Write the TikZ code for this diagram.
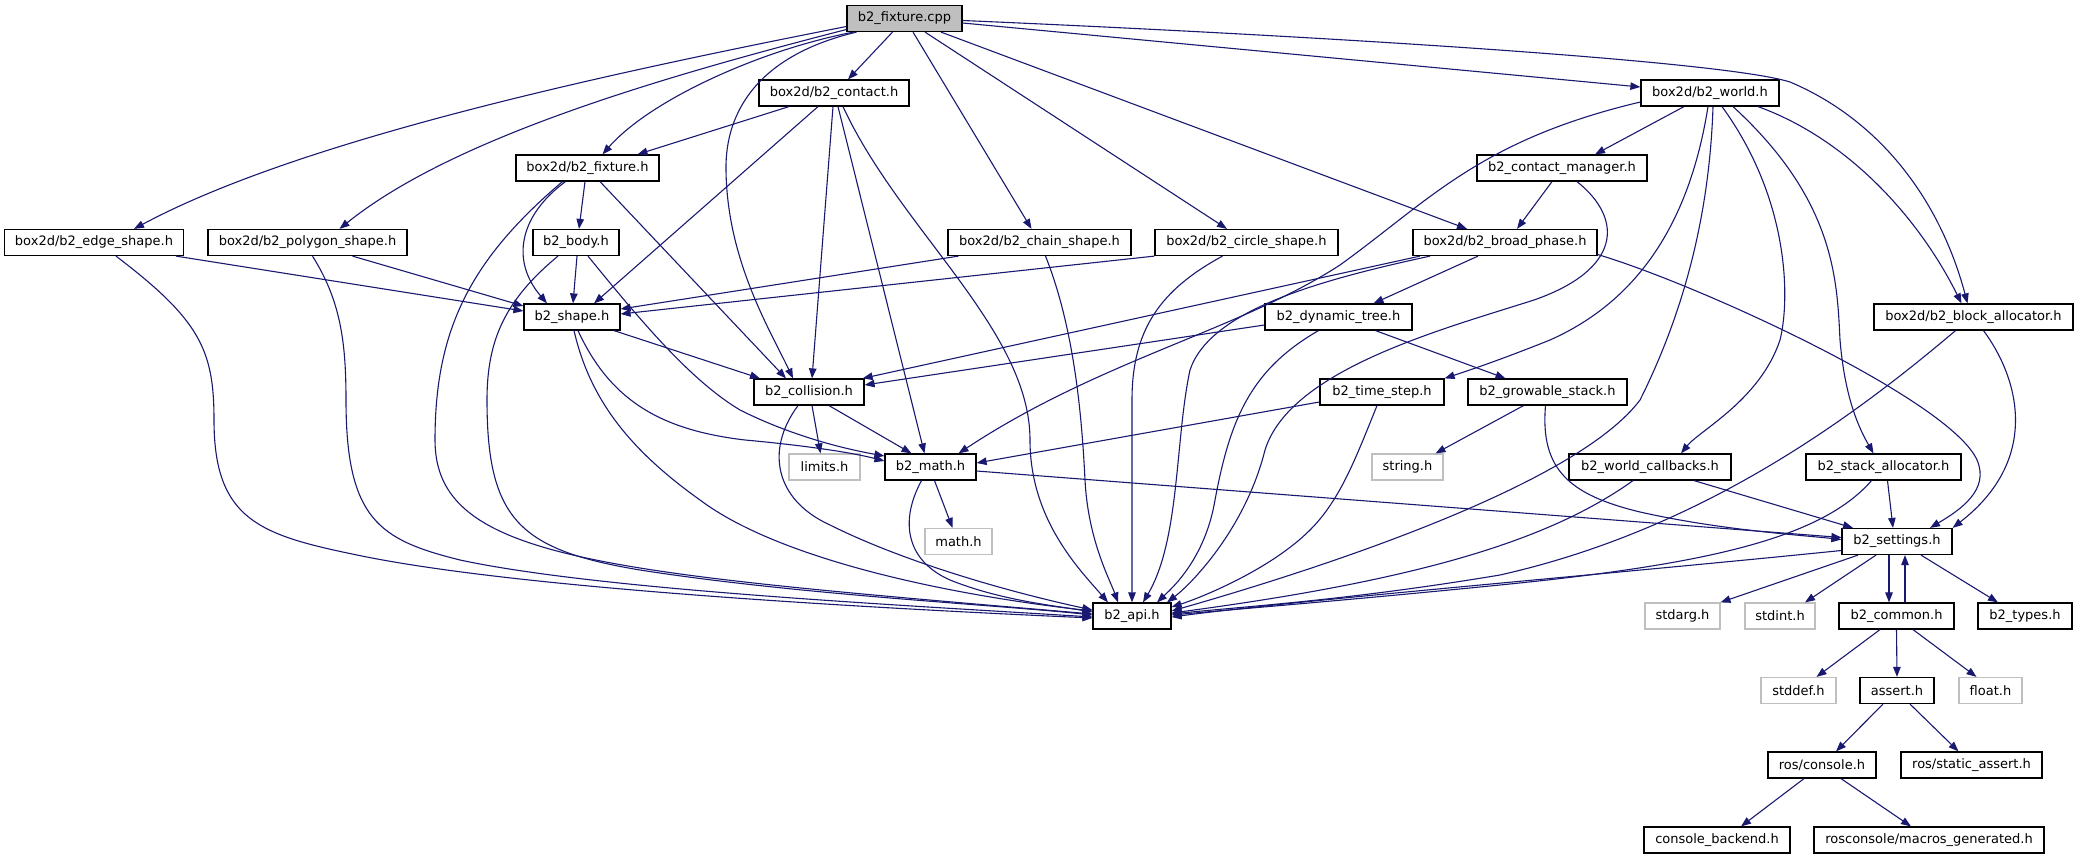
\documentclass[tikz,border=0pt]{standalone}
\usepackage{fontspec}
\setmainfont{DejaVu Sans}
\usetikzlibrary{arrows.meta}
\definecolor{edgeblue}{HTML}{191970}
\definecolor{extgray}{HTML}{BFBFBF}
\tikzset{
  box/.style={draw=black, line width=1.2pt, fill=white, inner sep=0pt, minimum height=26pt,
    font=\fontsize{13}{15}\selectfont, text=black},
  extbox/.style={box, draw=extgray},
  rootbox/.style={box, fill=extgray},
  dep/.style={draw=edgeblue, line width=1.1pt, -{Triangle[length=10pt,width=7.5pt]}},
}
\begin{document}
\begin{tikzpicture}[x=1pt,y=-1pt]
\useasboundingbox (0,0) rectangle (2078,859);
% nodes
\node[rootbox, minimum width=115pt] (cpp) at (904.5,18.5) {b2\_fixture.cpp};
\node[box, minimum width=150pt] (contact) at (834,93) {box2d/b2\_contact.h};
\node[box, minimum width=138pt] (world) at (1710,93) {box2d/b2\_world.h};
\node[box, minimum width=143pt] (fixtureh) at (587.5,168) {box2d/b2\_fixture.h};
\node[box, minimum width=170pt] (cmgr) at (1562,168) {b2\_contact\_manager.h};
\node[box, minimum width=179pt] (edge) at (94,242.5) {box2d/b2\_edge\_shape.h};
\node[box, minimum width=199pt] (polygon) at (307.5,242.5) {box2d/b2\_polygon\_shape.h};
\node[box, minimum width=86pt] (body) at (576,242.5) {b2\_body.h};
\node[box, minimum width=183pt] (chain) at (1039.5,242.5) {box2d/b2\_chain\_shape.h};
\node[box, minimum width=183pt] (circle) at (1246.5,242.5) {box2d/b2\_circle\_shape.h};
\node[box, minimum width=184pt] (broad) at (1505,242.5) {box2d/b2\_broad\_phase.h};
\node[box, minimum width=96pt] (shape) at (572,317) {b2\_shape.h};
\node[box, minimum width=147pt] (dyntree) at (1338.5,317) {b2\_dynamic\_tree.h};
\node[box, minimum width=199pt] (block) at (1973.5,317) {box2d/b2\_block\_allocator.h};
\node[box, minimum width=110pt] (collision) at (809,392) {b2\_collision.h};
\node[box, minimum width=124pt] (timestep) at (1382,392) {b2\_time\_step.h};
\node[box, minimum width=159pt] (growable) at (1547.5,392) {b2\_growable\_stack.h};
\node[extbox, minimum width=71pt] (limits) at (824.5,467) {limits.h};
\node[box, minimum width=91pt] (math) at (930.5,467) {b2\_math.h};
\node[extbox, minimum width=71pt] (string) at (1407.5,467) {string.h};
\node[box, minimum width=162pt] (worldcb) at (1650,467) {b2\_world\_callbacks.h};
\node[box, minimum width=155pt] (stackalloc) at (1883.5,467) {b2\_stack\_allocator.h};
\node[extbox, minimum width=67pt] (mathh) at (958.5,541.5) {math.h};
\node[box, minimum width=110pt] (settings) at (1897,541.5) {b2\_settings.h};
\node[box, minimum width=78pt] (api) at (1132,616) {b2\_api.h};
\node[extbox, minimum width=75pt] (stdarg) at (1682.5,616) {stdarg.h};
\node[extbox, minimum width=70pt] (stdint) at (1780,616) {stdint.h};
\node[box, minimum width=115pt] (common) at (1896.5,616) {b2\_common.h};
\node[box, minimum width=94pt] (types) at (2025,616) {b2\_types.h};
\node[extbox, minimum width=75pt] (stddef) at (1798.5,690.5) {stddef.h};
\node[box, minimum width=74pt] (assert) at (1897,690.5) {assert.h};
\node[extbox, minimum width=63pt] (float) at (1990.5,690.5) {float.h};
\node[box, minimum width=108pt] (console) at (1822,765) {ros/console.h};
\node[box, minimum width=141pt] (static) at (1971.5,765) {ros/static\_assert.h};
\node[box, minimum width=146pt] (backend) at (1717,840) {console\_backend.h};
\node[box, minimum width=230pt] (macros) at (1929,840) {rosconsole/macros\_generated.h};

% edges from b2_fixture.cpp
\draw[dep] ([yshift=-8pt]cpp.west) .. controls (600,75) and (300,140) .. ([xshift=40pt]edge.north);
\draw[dep] ([yshift=-11pt]cpp.west) .. controls (650,80) and (450,140) .. ([xshift=32pt]polygon.north);
\draw[dep] ([xshift=-51pt]cpp.south) .. controls (760,50) and (650,100) .. ([xshift=15pt]fixtureh.north);
\draw[dep] ([xshift=-48pt]cpp.south) .. controls (760,55) and (725,110) .. (726,170) .. controls (727,260) and (770,330) .. ([xshift=-16pt]collision.north);
\draw[dep] ([xshift=-12pt]cpp.south) -- ([xshift=14pt]contact.north);
\draw[dep] ([xshift=8.5pt]cpp.south) -- ([xshift=-8pt]chain.north);
\draw[dep] ([xshift=20.5pt]cpp.south) -- ([xshift=-19.5pt]circle.north);
\draw[dep] ([xshift=36.5pt]cpp.south) -- ([xshift=-38pt]broad.north);
\draw[dep] ([yshift=-4.5pt]cpp.east) -- ([yshift=6pt]world.west);
\draw[dep] ([yshift=-2pt]cpp.east) .. controls (1300,35) and (1720,60) .. (1790,82) .. controls (1880,120) and (1940,200) .. ([xshift=-6pt]block.north);

% contact
\draw[dep] ([xshift=-45pt]contact.south) -- ([xshift=50pt]fixtureh.north);
\draw[dep] ([xshift=-16pt]contact.south) -- ([xshift=22pt]shape.north);
\draw[dep] ([xshift=-1pt]contact.south) -- ([xshift=3pt]collision.north);
\draw[dep] ([xshift=4pt]contact.south) -- ([xshift=-6pt]math.north);
\draw[dep] ([xshift=9pt]contact.south) .. controls (900,230) and (1030,330) .. (1030,440) .. controls (1030,520) and (1080,570) .. ([xshift=-24pt]api.north);

% fixture.h
\draw[dep] ([xshift=-2.5pt]fixtureh.south) -- ([xshift=3pt]body.north);
\draw[dep] ([xshift=12.5pt]fixtureh.south) -- ([xshift=-23pt]collision.north);
\draw[dep] ([xshift=-22pt]fixtureh.south) .. controls (520,215) and (510,260) .. ([xshift=-25pt]shape.north);
\draw[dep] ([xshift=-25pt]fixtureh.south) .. controls (470,260) and (435,330) .. (435,440) .. controls (435,560) and (600,572) .. ([yshift=2pt]api.west);

% shapes
\draw[dep] ([xshift=82pt]edge.south) -- ([yshift=6pt]shape.west);
\draw[dep] ([xshift=22pt]edge.south) .. controls (200,320) and (214,350) .. (214,420) .. controls (214,520) and (260,535) .. (357,555) .. controls (500,585) and (800,605) .. ([yshift=-2pt]api.west);
\draw[dep] ([xshift=45pt]polygon.south) -- ([yshift=11pt]shape.west);
\draw[dep] ([xshift=5pt]polygon.south) .. controls (340,300) and (346,340) .. (346,400) .. controls (346,520) and (380,540) .. (460,560) .. controls (600,590) and (900,605) .. ([yshift=-1pt]api.west);
\draw[dep] ([xshift=1pt]body.south) -- ([xshift=1pt]shape.north);
\draw[dep] ([xshift=12pt]body.south) .. controls (640,320) and (690,380) .. (740,410) .. controls (790,435) and (840,448) .. ([yshift=11pt]math.west);
\draw[dep] ([xshift=-18pt]body.south) .. controls (505,300) and (487,340) .. (487,400) .. controls (487,520) and (520,550) .. (640,570) .. controls (800,595) and (1000,605) .. ([yshift=1pt]api.west);
\draw[dep] ([xshift=-81pt]chain.south) -- ([yshift=8pt]shape.east);
\draw[dep] ([xshift=6pt]chain.south) .. controls (1075,330) and (1082,420) .. (1085,480) .. controls (1088,540) and (1110,580) .. ([xshift=-14pt]api.north);
\draw[dep] (circle.south west) -- ([yshift=3pt]shape.east);
\draw[dep] ([xshift=-24pt]circle.south) .. controls (1160,290) and (1132,330) .. (1132,400) -- (api.north);
\draw[dep] ([xshift=42pt]shape.south) -- ([xshift=-49pt]collision.north);
\draw[dep] ([xshift=6pt]shape.south) .. controls (610,400) and (660,430) .. (745,440) .. controls (800,445) and (850,452) .. ([yshift=6pt]math.west);
\draw[dep] ([xshift=2pt]shape.south) .. controls (590,400) and (630,450) .. (700,500) .. controls (780,560) and (950,595) .. ([yshift=5pt]api.west);

% collision, math
\draw[dep] ([xshift=3pt]collision.south) -- ([xshift=-4pt]limits.north);
\draw[dep] ([xshift=20pt]collision.south) -- ([xshift=-19pt]math.north);
\draw[dep] ([xshift=-11pt]collision.south) .. controls (765,450) and (775,500) .. (830,525) .. controls (900,560) and (1000,590) .. ([yshift=6pt]api.west);
\draw[dep] ([xshift=4pt]math.south) -- ([xshift=-6pt]mathh.north);
\draw[dep] ([xshift=-9pt]math.south) .. controls (900,520) and (905,560) .. (950,580) .. controls (1000,600) and (1050,605) .. ([yshift=4pt]api.west);
\draw[dep] ([yshift=-4pt]math.east) -- ([yshift=4pt]settings.west);

% world
\draw[dep] ([xshift=-26pt]world.south) -- ([xshift=33pt]cmgr.north);
\draw[dep] ([yshift=-9pt]world.west) .. controls (1480,140) and (1430,200) .. (1340,265) .. controls (1240,330) and (1100,360) .. ([xshift=28pt]math.north);
\draw[dep] ([xshift=-2pt]world.south) .. controls (1690,220) and (1640,300) .. (1550,340) .. controls (1500,360) and (1470,370) .. (timestep.north east);
\draw[dep] ([xshift=3pt]world.south) .. controls (1710,200) and (1690,300) .. (1640,400) .. controls (1580,480) and (1350,560) .. ([yshift=5pt]api.east);
\draw[dep] ([xshift=12pt]world.south) .. controls (1790,200) and (1790,300) .. (1780,340) .. controls (1760,400) and (1700,430) .. ([xshift=31pt]worldcb.north);
\draw[dep] ([xshift=23pt]world.south) .. controls (1835,200) and (1837,280) .. (1840,340) .. controls (1845,400) and (1860,430) .. ([xshift=-10pt]stackalloc.north);
\draw[dep] ([xshift=48pt]world.south) .. controls (1850,140) and (1920,220) .. ([xshift=-12pt]block.north);

% contact manager, broad phase
\draw[dep] ([xshift=-10pt]cmgr.south) -- ([xshift=12pt]broad.north);
\draw[dep] ([xshift=15pt]cmgr.south) .. controls (1625,220) and (1620,270) .. (1534,300) .. controls (1440,330) and (1290,370) .. (1265,450) .. controls (1245,530) and (1190,585) .. ([xshift=35pt]api.north);
\draw[dep] ([xshift=-85pt]broad.south) -- ([xshift=-2pt]collision.north east);
\draw[dep] ([xshift=-27pt]broad.south) -- ([xshift=35pt]dyntree.north);
\draw[dep] ([xshift=-75pt]broad.south) .. controls (1320,280) and (1210,310) .. (1190,370) .. controls (1175,440) and (1180,540) .. ([xshift=11pt]api.north);
\draw[dep] ([yshift=-12pt]broad.east) .. controls (1700,285) and (1950,400) .. (1977,460) .. controls (1990,490) and (1960,510) .. ([xshift=33pt]settings.north);

% dynamic tree, time step, growable stack
\draw[dep] ([yshift=-8pt]dyntree.west) -- ([yshift=7pt]collision.east);
\draw[dep] ([xshift=37pt]dyntree.south) -- ([xshift=-42pt]growable.north);
\draw[dep] ([xshift=-20pt]dyntree.south) .. controls (1250,370) and (1230,420) .. (1215,500) .. controls (1205,560) and (1170,590) .. ([xshift=25pt]api.north);
\draw[dep] ([yshift=-10pt]timestep.west) -- ([yshift=4pt]math.east);
\draw[dep] ([xshift=-5pt]timestep.south) .. controls (1355,460) and (1340,500) .. (1310,530) .. controls (1270,570) and (1200,598) .. ([yshift=9pt]api.east);
\draw[dep] ([xshift=-24pt]growable.south) -- ([xshift=28pt]string.north);
\draw[dep] ([xshift=-2pt]growable.south) .. controls (1540,470) and (1570,495) .. (1640,512) .. controls (1720,530) and (1800,535) .. ([yshift=2pt]settings.west);

% callbacks, allocators
\draw[dep] ([xshift=44pt]worldcb.south) -- ([xshift=-44pt]settings.north);
\draw[dep] ([xshift=-17pt]worldcb.south) .. controls (1550,540) and (1420,580) .. ([yshift=3pt]api.east);
\draw[dep] ([xshift=4pt]stackalloc.south) -- ([xshift=-4pt]settings.north);
\draw[dep] ([xshift=-12pt]stackalloc.south) .. controls (1820,540) and (1700,565) .. (1500,585) .. controls (1350,600) and (1250,608) .. ([yshift=1pt]api.east);
\draw[dep] ([xshift=10pt]block.south) .. controls (2020,380) and (2040,460) .. (settings.north east);
\draw[dep] ([xshift=-18pt]block.south) .. controls (1850,420) and (1700,530) .. (1500,575) .. controls (1350,600) and (1250,606) .. ([yshift=2pt]api.east);

% settings and below
\draw[dep] ([yshift=-9pt]settings.west) .. controls (1600,575) and (1300,600) .. ([yshift=-1pt]api.east);
\draw[dep] ([xshift=-8pt]settings.south) -- ([xshift=-7.5pt]common.north);
\draw[dep] ([xshift=8.5pt]common.north) -- ([xshift=8pt]settings.south);
\draw[dep] ([xshift=-39pt]settings.south) -- ([xshift=38pt]stdarg.north);
\draw[dep] ([xshift=-21pt]settings.south) -- ([xshift=25pt]stdint.north);
\draw[dep] ([xshift=24pt]settings.south) -- ([xshift=-27pt]types.north);
\draw[dep] ([xshift=-16.5pt]common.south) -- ([xshift=18pt]stddef.north);
\draw[dep] (common.south) -- (assert.north);
\draw[dep] ([xshift=16.5pt]common.south) -- ([xshift=-14pt]float.north);
\draw[dep] ([xshift=-14pt]assert.south) -- ([xshift=14pt]console.north);
\draw[dep] ([xshift=13pt]assert.south) -- ([xshift=-13pt]static.north);
\draw[dep] ([xshift=-18pt]console.south) -- ([xshift=24pt]backend.north);
\draw[dep] ([xshift=19pt]console.south) -- ([xshift=-18pt]macros.north);
\end{tikzpicture}
\end{document}
